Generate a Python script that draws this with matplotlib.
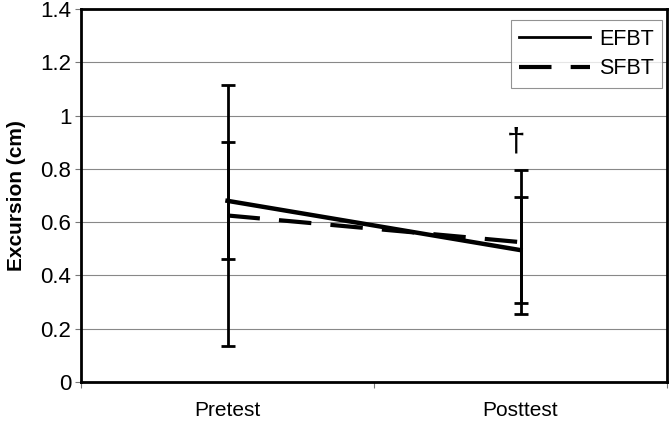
import matplotlib.pyplot as plt

plt.rcParams['font.family'] = ['Liberation Sans', 'DejaVu Sans']

# Data
categories = ['Pretest', 'Posttest']
efbt = [0.68, 0.495]
efbt_err = [0.22, 0.20]
sfbt = [0.625, 0.525]
sfbt_err = [0.49, 0.27]
dagger_y = 0.90

fig = plt.figure(figsize=(6.69, 4.23), dpi=100)
ax = fig.add_axes([81 / 669, 1 - 382 / 423, 586 / 669, 373 / 423])

x = [0.5, 1.5]

ax.plot(x, efbt, color='black', linewidth=3.2, label='EFBT', zorder=3)
ax.plot(x, sfbt, color='black', linewidth=3.0, linestyle=(0, (7.8, 4.6)),
        dash_capstyle='butt', label='SFBT', zorder=3)

ax.errorbar(x, efbt, yerr=efbt_err, fmt='none', ecolor='black', elinewidth=2,
            capsize=5, capthick=2, zorder=4)
ax.errorbar(x, sfbt, yerr=sfbt_err, fmt='none', ecolor='black', elinewidth=2,
            capsize=5, capthick=2, zorder=4)

ax.text(1.485, dagger_y, '\u2020', ha='center', va='center', fontsize=24)

ax.set_xlim(0, 2)
ax.set_ylim(0, 1.4)
ax.set_yticks([0, 0.2, 0.4, 0.6, 0.8, 1.0, 1.2, 1.4])
ax.set_yticklabels(['0', '0.2', '0.4', '0.6', '0.8', '1', '1.2', '1.4'])
ax.set_xticks([0, 1, 2])
ax.set_xticklabels([])
ax.set_xticks(x, minor=True)
ax.set_xticklabels(categories, minor=True)
ax.tick_params(axis='x', which='minor', length=0, pad=14, labelsize=15)
ax.tick_params(axis='x', which='major', length=4, width=0.8, color='#777777', direction='out')
ax.tick_params(axis='y', length=4, width=0.8, color='#777777', labelsize=16, pad=3)

ax.grid(axis='y', color='#888888', linewidth=0.8)
ax.set_axisbelow(True)
for s in ax.spines.values():
    s.set_linewidth(2)
    s.set_color('black')

ax.set_ylabel('Excursion (cm)', fontsize=15, fontweight='bold', labelpad=10)

leg = ax.legend(loc='upper right', bbox_to_anchor=(0.992, 0.97), fontsize=15.5,
                frameon=True, fancybox=False, handlelength=3.3, borderpad=0.4,
                labelspacing=0.4, handletextpad=0.4, borderaxespad=0)
leg.get_frame().set_edgecolor('#777777')
leg.get_frame().set_linewidth(0.8)
leg.get_lines()[0].set_linewidth(2)

fig.savefig('out.png', dpi=100)
